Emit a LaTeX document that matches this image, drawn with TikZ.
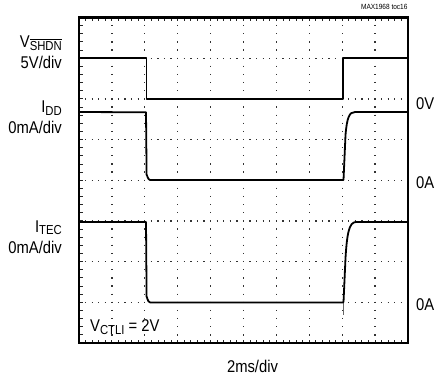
\documentclass[tikz,border=0pt]{standalone}
\usepackage{fontspec}
\setmainfont{Liberation Sans}[FakeStretch=0.87]
\newcommand\lbl{\fontsize{17}{20}\selectfont}
\newcommand\subtx[1]{\raisebox{-2.5pt}{\fontsize{13}{15}\selectfont #1}}
\newcommand\ovl[1]{\vbox{\hrule height 1.1pt\kern1.6pt\hbox{#1}}}
\begin{document}
\begin{tikzpicture}[x=1pt,y=-1pt,
  txt/.style={inner sep=0pt, font=\lbl},
  trace/.style={line width=1.8pt, line join=round},
  gridline/.style={line width=1.3pt, black!80},
  tickmark/.style={line width=0.9pt, black!85}]
\useasboundingbox (0,0) rectangle (435,377);
% grid
\foreach \k in {1,...,7}
  \draw[gridline, dash pattern=on 1.3pt off 5.28pt] (78.35,{17.5+\k*40.6875}) -- (408,{17.5+\k*40.6875});
\foreach \i in {1,...,9}
  \draw[gridline, dash pattern=on 1.3pt off 6.8375pt] ({79+\i*32.9},16.85) -- ({79+\i*32.9},343);
% edge ticks
\foreach \j in {1,...,49} {
  \draw[tickmark] ({79+\j*6.58},17.5) -- ++(0,3.5);
  \draw[tickmark] ({79+\j*6.58},343) -- ++(0,-3.5);
}
\foreach \j in {1,...,39}
  \draw[tickmark] (79,{17.5+\j*8.1375}) -- ++(3.5,0);
% traces
\draw[trace] (79,58.2) -- (146.5,58.2) -- (146.5,98.6) -- (343.3,98.6) -- (343.3,58.2) -- (408,58.2);
\draw[trace] (79,112) -- (146,112.3) -- (146.6,175) to[out=90,in=180] (150,180) -- (343.5,180)
  -- (345.5,135) .. controls (347,118) and (349,112) .. (355,112) -- (408,112);
\draw[line width=0.9pt, black!60] (343.4,302) -- (343.4,315);
\draw[trace] (79,222) -- (146,222) -- (146.6,297) to[out=90,in=180] (150,302.4) -- (343.3,302.4)
  -- (343.6,300) -- (345.5,258) .. controls (347,234) and (349,222) .. (356,222) -- (408,222);
% frame
\draw[line width=2.6pt] (79,17.5) rectangle (408,343);
% labels
\node[txt, anchor=base east] (vshdn) at (62,48) {V\subtx{\ovl{SHDN}}};
\node[txt, anchor=base east] (vdiv) at (62,68.3) {5V/div};
\node[txt, anchor=base east] (idd) at (62,112.5) {I\subtx{DD}};
\node[txt, anchor=base east] (idiv) at (62,133) {0mA/div};
\node[txt, anchor=base east] (itec) at (62,232) {I\subtx{TEC}};
\node[txt, anchor=base east] (tdiv) at (62,253) {0mA/div};
\node[txt, anchor=base east] (zv) at (434.5,109) {0V};
\node[txt, anchor=base east] (za1) at (434.5,188.3) {0A};
\node[txt, anchor=base east] (za2) at (434.5,310) {0A};
\node[txt, anchor=base west] (vctli) at (90,331.5) {V\subtx{CTLI} = 2V};
\node[txt, anchor=base] (tdivx) at (252.5,372.5) {2ms/div};
\node[inner sep=0pt, anchor=base east, font=\fontsize{7.5}{9}\selectfont] (tag) at (407.7,9.5) {MAX1968 toc16};
\end{tikzpicture}
\end{document}
